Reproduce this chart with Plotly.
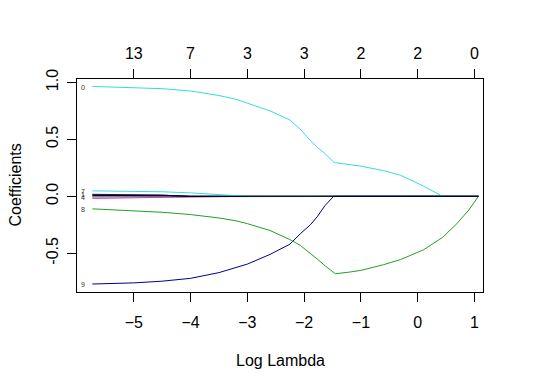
import plotly.graph_objects as go

# glmnet coefficient paths vs log(lambda)
LOG_LAMBDA = [-5.73, -5.5, -5.0, -4.5, -4.0, -3.5, -3.2, -3.0, -2.6, -2.25, -2.07, -1.89,
              -1.77, -1.63, -1.48, -1.45, -1.2, -1.0, -0.6, -0.3, 0.1, 0.44, 0.69, 0.9, 1.07]

COEF_CYAN = [0.965, 0.962, 0.955, 0.945, 0.925, 0.885, 0.852, 0.82, 0.75, 0.67, 0.59, 0.49,
             0.43, 0.375, 0.30, 0.295, 0.28, 0.265, 0.225, 0.185, 0.09, 0.0, 0.0, 0.0, 0.0]
COEF_GREEN = [-0.11, -0.115, -0.125, -0.14, -0.16, -0.19, -0.215, -0.24, -0.30, -0.38, -0.43, -0.50,
              -0.55, -0.61, -0.67, -0.68, -0.665, -0.65, -0.60, -0.555, -0.47, -0.36, -0.24, -0.12, 0.0]
COEF_NAVY = [-0.77, -0.767, -0.76, -0.745, -0.72, -0.67, -0.625, -0.595, -0.51, -0.42, -0.33, -0.25,
             -0.18, -0.08, 0.0, 0.0, 0.0, 0.0, 0.0, 0.0, 0.0, 0.0, 0.0, 0.0, 0.0]

# small coefficients close to zero
SMALL_CYAN = [0.048, 0.047, 0.045, 0.04, 0.03, 0.015, 0.0] + [0.0] * 18
SMALL_PURPLE = [0.018, 0.017, 0.015, 0.01, 0.0] + [0.0] * 20
SMALL_BLUE = [0.012, 0.012, 0.011, 0.01, 0.0] + [0.0] * 20
SMALL_GREEN = [-0.004, -0.003, 0.0] + [0.0] * 22
SMALL_GRAY = [-0.005, -0.005, -0.005, -0.005, -0.004, -0.003, 0.0] + [0.0] * 18
SMALL_MAGENTA = [-0.018, -0.016, -0.01, -0.006, -0.004, 0.0] + [0.0] * 19
SMALL_BLACK = [0.008, 0.008, 0.008, 0.006, 0.0] + [0.0] * 20

TOP_TICKS = [-5, -4, -3, -2, -1, 0, 1]
TOP_LABELS = ["13", "7", "3", "3", "2", "2", "0"]

PATH_LABELS = [("0", 0.955), ("7", 0.042), ("1", 0.012), ("4", -0.008), ("8", -0.12), ("9", -0.77)]

FONT = "Liberation Sans, Arial, sans-serif"

fig = go.Figure()

series = [
    (SMALL_GREEN, "#22A022"),
    (SMALL_MAGENTA, "#DD22DD"),
    (SMALL_GRAY, "#888888"),
    (SMALL_PURPLE, "#4B1A7A"),
    (SMALL_BLUE, "#00008B"),
    (SMALL_CYAN, "#33DDDD"),
    (COEF_CYAN, "#33DDDD"),
    (COEF_NAVY, "#00008B"),
    (COEF_GREEN, "#22A022"),
    (SMALL_BLACK, "#000000"),
]
for ys, col in series:
    fig.add_trace(go.Scatter(x=LOG_LAMBDA, y=ys, mode="lines",
                             line=dict(color=col, width=1), showlegend=False,
                             hoverinfo="skip"))

# dummy trace so the top axis is drawn
fig.add_trace(go.Scatter(x=LOG_LAMBDA, y=SMALL_BLACK, xaxis="x2", mode="lines",
                         opacity=0, showlegend=False, hoverinfo="skip"))

for txt, yv in PATH_LABELS:
    fig.add_annotation(x=-5.9, y=yv, text=txt, showarrow=False,
                       xanchor="center", yanchor="middle",
                       font=dict(size=7, color="#333333", family=FONT))

fig.add_annotation(xref="paper", yref="paper", x=-0.1527, y=0.5, text="Coefficients",
                   textangle=-90, showarrow=False, xanchor="center", yanchor="middle",
                   font=dict(size=16, color="#000000", family=FONT))
fig.add_annotation(xref="paper", yref="paper", x=0.5, y=-0.3225, text="Log Lambda",
                   showarrow=False, xanchor="center", yanchor="middle",
                   font=dict(size=16, color="#000000", family=FONT))

axis_common = dict(showgrid=False, zeroline=False, ticks="outside", ticklen=9,
                   tickcolor="#000000", tickfont=dict(size=16, color="#000000", family=FONT),
                   linecolor="#000000", linewidth=1, automargin=False)

# the page body adds an 8px offset, so the figure is 8px smaller each way
fig.update_layout(
    width=526, height=382,
    margin=dict(l=69, r=51, t=71, b=98),
    paper_bgcolor="white", plot_bgcolor="white",
    xaxis=dict(range=[-6.0, 1.15], tickvals=TOP_TICKS, showline=True, mirror=True,
               ticklabelstandoff=7, **axis_common),
    xaxis2=dict(range=[-6.0, 1.15], overlaying="x", side="top", tickvals=TOP_TICKS,
                ticktext=TOP_LABELS, showline=False, ticklabelstandoff=4, **axis_common),
    yaxis=dict(range=[-0.84, 1.03], tickvals=[-0.5, 0.0, 0.5, 1.0],
               ticktext=["-0.5", "0.0", "0.5", "1.0"], tickangle=-90,
               showline=True, mirror=True, ticklabelstandoff=3, **axis_common),
)

fig.write_html("out.html")
